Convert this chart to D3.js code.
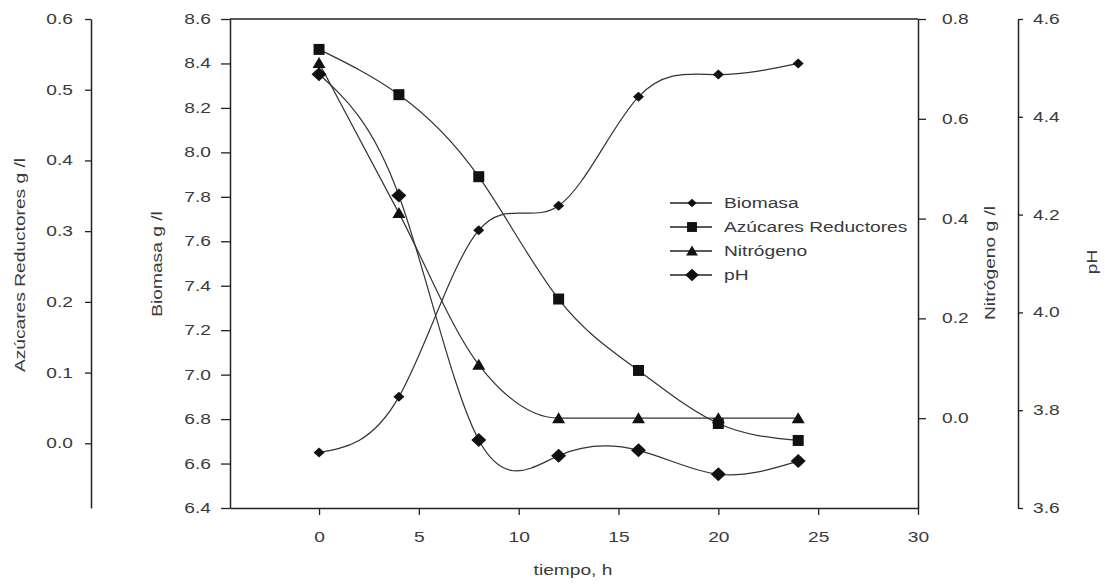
<!DOCTYPE html>
<html>
<head>
<meta charset="utf-8">
<script src="https://cdn.jsdelivr.net/npm/d3@7"></script>
<style>
  body { margin: 0; background: #fff; }
  svg text { font-family: "Liberation Sans", Arial, sans-serif; font-size: 14px; fill: #3a3a3a; }
</style>
</head>
<body>
<div id="chart"></div>
<script>
// datos
var tiempo    = [0, 4, 8, 12, 16, 20, 24];
var biomasa   = [6.65, 6.90, 7.65, 7.76, 8.25, 8.35, 8.40];
var azucares  = [0.557, 0.493, 0.377, 0.204, 0.103, 0.028, 0.004];
var nitrogeno = [0.712, 0.411, 0.107, 0.0, 0.0, 0.0, 0.0];
var ph        = [4.487, 4.239, 3.739, 3.707, 3.718, 3.669, 3.696];

var xTicks   = [0, 5, 10, 15, 20, 25, 30];
var bioTicks = d3.range(6.4, 8.61, 0.2);
var azTicks  = d3.range(0, 0.61, 0.1);
var nTicks   = d3.range(0, 0.81, 0.2);
var phTicks  = d3.range(3.6, 4.61, 0.2);

var nombres = ["Biomasa", "Azúcares Reductores", "Nitrógeno", "pH"];

var W = 1105, H = 587;
var SX = 1.37; // texto ancho como en el original
var pTop = 19, pBottom = 508, pLeft = 230, pRight = 918;

var svg = d3.select("#chart").append("svg")
    .attr("width", W).attr("height", H);

var x = d3.scaleLinear().domain([-4.46, 30]).range([pLeft, pRight]);
var yBio = d3.scaleLinear().domain([6.4, 8.6]).range([pBottom, pTop]);
var yAz = d3.scaleLinear().domain([-0.0915, 0.6]).range([pBottom, pTop]);
var yN = d3.scaleLinear().domain([-0.18, 0.8]).range([pBottom, pTop]);
var yPh = d3.scaleLinear().domain([3.6, 4.6]).range([pBottom, pTop]);

var fmt = d3.format(".1f");

function styleAxis(g) {
    g.selectAll("path.domain").attr("stroke", "#222").attr("stroke-width", 1.5);
    g.selectAll(".tick line").attr("stroke", "#222").attr("stroke-width", 1.3);
    g.selectAll(".tick text")
        .attr("fill", "#3a3a3a")
        .style("font-size", "14px")
        .each(function () {
            var t = d3.select(this);
            var tx = +t.attr("x") || 0;
            t.attr("x", tx / SX).attr("transform", "scale(" + SX + ",1)");
        });
}

// eje X
svg.append("g")
    .attr("transform", "translate(0," + pBottom + ")")
    .call(d3.axisBottom(x).tickValues(xTicks).tickSize(7).tickSizeOuter(0).tickPadding(17).tickFormat(d3.format("d")))
    .call(styleAxis);

// marco superior
svg.append("line")
    .attr("x1", pLeft).attr("x2", pRight).attr("y1", pTop).attr("y2", pTop)
    .attr("stroke", "#222").attr("stroke-width", 1.5);

// Biomasa (izq. interior)
svg.append("g")
    .attr("transform", "translate(" + pLeft + ",0)")
    .call(d3.axisLeft(yBio).tickValues(bioTicks).tickSize(9).tickSizeOuter(0).tickPadding(10).tickFormat(fmt))
    .call(styleAxis);

// Azucares (izq. exterior)
svg.append("g")
    .attr("transform", "translate(91,0)")
    .call(d3.axisLeft(yAz).tickValues(azTicks).tickSize(6).tickSizeOuter(0).tickPadding(12).tickFormat(fmt))
    .call(styleAxis);

// Nitrogeno (der. interior)
svg.append("g")
    .attr("transform", "translate(" + pRight + ",0)")
    .call(d3.axisRight(yN).tickValues(nTicks).tickSize(8).tickSizeOuter(0).tickPadding(16).tickFormat(fmt))
    .call(styleAxis);

// pH (der. exterior)
svg.append("g")
    .attr("transform", "translate(1018,0)")
    .call(d3.axisRight(yPh).tickValues(phTicks).tickSize(5).tickSizeOuter(0).tickPadding(10).tickFormat(fmt))
    .call(styleAxis);

// titulos de ejes
function titulo(txt, cx, cy, rot) {
    var t = svg.append("text")
        .attr("text-anchor", "middle")
        .text(txt);
    if (rot) {
        t.attr("transform", "translate(" + (cx + 5) + "," + cy + ") rotate(-90) scale(" + SX + ",1)");
    } else {
        t.attr("transform", "translate(" + cx + "," + cy + ") scale(" + SX + ",1)");
    }
}
titulo("Azúcares Reductores g /l", 20, 265, true);
titulo("Biomasa g /l", 157, 264, true);
titulo("Nitrógeno g /l", 990, 263, true);
titulo("pH", 1092, 262, true);
titulo("tiempo, h", 573, 575, false);

// marcadores
function marker(tipo) {
    if (tipo === "dsmall") return "M0,-5L5.5,0L0,5L-5.5,0Z";
    if (tipo === "dbig") return "M0,-7L7.5,0L0,7L-7.5,0Z";
    if (tipo === "square") return "M-5.5,-5.5H5.5V5.5H-5.5Z";
    if (tipo === "tri") return "M0,-6L6.5,5H-6.5Z";
}

var series = [
    { nombre: nombres[0], vals: biomasa, y: yBio, m: "dsmall", curva: d3.curveNatural },
    { nombre: nombres[1], vals: azucares, y: yAz, m: "square", curva: d3.curveNatural },
    { nombre: nombres[2], vals: nitrogeno, y: yN, m: "tri", curva: d3.curveMonotoneX },
    { nombre: nombres[3], vals: ph, y: yPh, m: "dbig", curva: d3.curveNatural }
];

series.forEach(function (s) {
    var line = d3.line()
        .x(function (d, i) { return x(tiempo[i]); })
        .y(function (d) { return s.y(d); })
        .curve(s.curva);

    svg.append("path")
        .datum(s.vals)
        .attr("d", line)
        .attr("fill", "none")
        .attr("stroke", "#333")
        .attr("stroke-width", 1.2);

    svg.selectAll(null)
        .data(s.vals)
        .enter()
        .append("path")
        .attr("d", marker(s.m))
        .attr("transform", function (d, i) {
            return "translate(" + x(tiempo[i]) + "," + s.y(d) + ")";
        })
        .attr("fill", "#111");
});

// leyenda
var legend = svg.append("g").attr("transform", "translate(670,203)");
var items = legend.selectAll("g")
    .data(series)
    .enter()
    .append("g")
    .attr("transform", function (d, i) { return "translate(0," + (i * 24) + ")"; });

items.append("line")
    .attr("x1", 0).attr("x2", 42)
    .attr("stroke", "#222").attr("stroke-width", 1.3);

items.append("path")
    .attr("d", function (d) { return marker(d.m); })
    .attr("transform", function (d) {
        return d.m === "dsmall" ? "translate(22,0) scale(0.85)" : "translate(22,0) scale(0.9)";
    })
    .attr("fill", "#111");

items.append("text")
    .attr("transform", "translate(54,5) scale(" + SX + ",1)")
    .text(function (d) { return d.nombre; });
</script>
</body>
</html>
